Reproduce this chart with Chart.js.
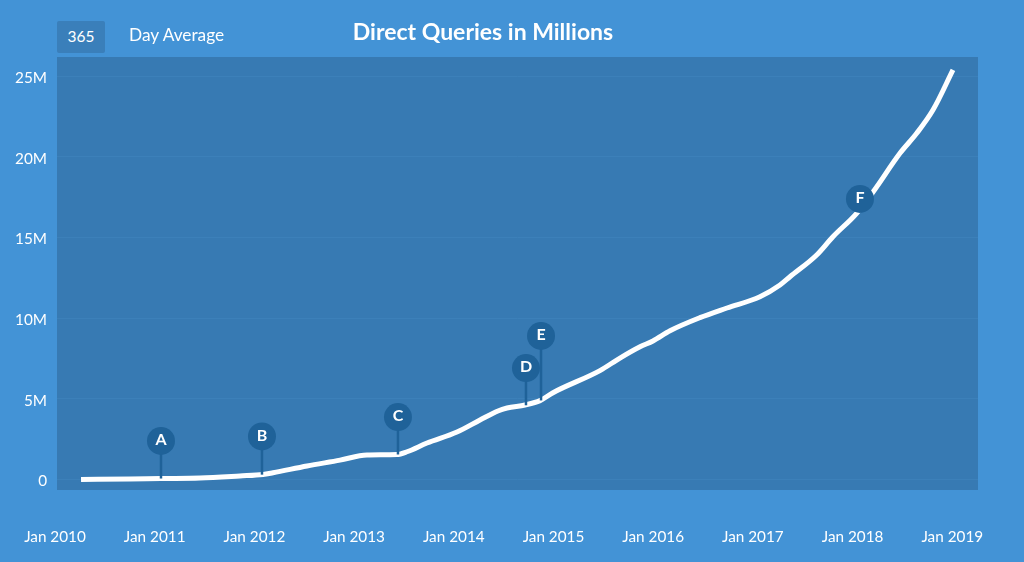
<!DOCTYPE html>
<html>
<head>
<meta charset="utf-8">
<title>Direct Queries in Millions</title>
<script src="https://cdn.jsdelivr.net/npm/chart.js@4"></script>
<style>
  body { margin: 0; width: 1024px; height: 562px; overflow: hidden; background: #4393d6; position: relative; font-family: Lato, sans-serif; color: #fff; }
  #chart { position: absolute; left: 0; top: 0; }
  .avg-box { position: absolute; left: 57px; top: 21px; width: 48px; height: 32px; line-height: 31px; text-align: center; background: #3a7fba; border-radius: 2px; font-size: 15.5px; }
  .avg-label { position: absolute; left: 129px; top: 25px; font-size: 17.3px; line-height: 20px; }
  .title { position: absolute; left: 283px; width: 400px; top: 18px; text-align: center; font-size: 23px; line-height: 26px; font-weight: 700; }
</style>
</head>
<body>
<canvas id="chart" width="1024" height="562"></canvas>
<div class="avg-box">365</div>
<div class="avg-label">Day Average</div>
<div class="title">Direct Queries in Millions</div>
<script>
// x values are in years from the "Jan 2010" label, y values in millions
const lineYears = [0.261, 0.752, 1.063, 1.454, 1.855, 2.086, 2.187, 2.528, 2.859, 3.129, 3.43, 3.531, 3.731, 4.032, 4.263, 4.443, 4.534, 4.714, 4.865, 4.995, 5.466, 5.667, 5.868, 5.998, 6.169, 6.469, 6.74, 7.071, 7.272, 7.372, 7.64, 7.803, 8.041, 8.207, 8.475, 8.643, 8.806, 9.007];
const lineValues = [0, 0.03, 0.06, 0.09, 0.22, 0.31, 0.42, 0.84, 1.2, 1.52, 1.55, 1.72, 2.26, 2.94, 3.69, 4.25, 4.43, 4.62, 4.89, 5.38, 6.75, 7.53, 8.23, 8.59, 9.22, 10.03, 10.63, 11.33, 12.06, 12.57, 13.92, 15.05, 16.5, 17.84, 20.22, 21.46, 22.9, 25.39];

const pinLetters = ['A', 'B', 'C', 'D', 'E', 'F'];
const pinYears = [1.063, 2.076, 3.44, 4.724, 4.875, 8.074];
const pinTops = [2.39, 2.67, 3.87, 6.91, 8.9, 17.39];
const pinBases = [0.06, 0.3, 1.55, 4.6, 4.9, 17.39];

const xTickYears = [0, 1, 2, 3, 4, 5, 6, 7, 8, 9];
const yTickValues = [0, 5, 10, 15, 20, 25];

const pinColor = '#1f6299';
const textFont = { family: 'Lato, sans-serif', size: 15.3 };

// panel behind the plot
const panelPlugin = {
  id: 'panel',
  beforeDraw(chart) {
    const a = chart.chartArea;
    chart.ctx.fillStyle = '#377ab3';
    chart.ctx.fillRect(a.left, a.top, a.width, a.height);
  }
};

// letters inside the pin circles
const pinLetterPlugin = {
  id: 'pinLetters',
  afterDatasetsDraw(chart) {
    const ctx = chart.ctx;
    ctx.save();
    ctx.fillStyle = '#fff';
    ctx.font = '700 16px Lato, sans-serif';
    ctx.textAlign = 'center';
    ctx.textBaseline = 'middle';
    pinLetters.forEach((letter, i) => {
      ctx.fillText(letter, chart.scales.x.getPixelForValue(pinYears[i]), chart.scales.y.getPixelForValue(pinTops[i]) - 1);
    });
    ctx.restore();
  }
};

const stems = pinLetters.map((letter, i) => ({
  data: [{ x: pinYears[i], y: pinBases[i] }, { x: pinYears[i], y: pinTops[i] }],
  borderColor: pinColor,
  borderWidth: 2.5,
  pointRadius: 0,
  order: 2
}));

new Chart(document.getElementById('chart'), {
  type: 'line',
  data: {
    datasets: [
      {
        data: lineYears.map((year, i) => ({ x: year, y: lineValues[i] })),
        borderColor: '#fff',
        borderWidth: 5,
        pointRadius: 0,
        cubicInterpolationMode: 'monotone',
        order: 3
      },
      ...stems,
      {
        data: pinYears.map((year, i) => ({ x: year, y: pinTops[i] })),
        showLine: false,
        pointRadius: 14,
        pointBackgroundColor: pinColor,
        pointBorderWidth: 0,
        order: 1
      }
    ]
  },
  options: {
    responsive: false,
    animation: false,
    layout: { autoPadding: false, padding: { top: 57, right: 46 } },
    plugins: { legend: { display: false }, tooltip: { enabled: false } },
    scales: {
      x: {
        type: 'linear',
        bounds: 'data',
        min: 0.02,
        max: 9.258,
        afterBuildTicks: axis => { axis.ticks = xTickYears.map(v => ({ value: v })); },
        afterFit: axis => {
          axis.height = 72;
          // edge labels must not push the plot area in
          axis.paddingLeft = 0;
          axis.paddingRight = 0;
        },
        grid: { display: false },
        border: { display: false },
        ticks: {
          autoSkip: false,
          maxRotation: 0,
          padding: 30,
          color: '#fff',
          font: textFont,
          callback: v => 'Jan ' + (2010 + v)
        }
      },
      y: {
        min: -0.651,
        max: 26.19,
        afterBuildTicks: axis => { axis.ticks = yTickValues.map(v => ({ value: v })); },
        afterFit: axis => { axis.width = 57; },
        grid: { color: '#3c80b9', lineWidth: 1, drawTicks: false },
        border: { display: false },
        ticks: {
          padding: 10,
          labelOffset: 2,
          color: '#fff',
          font: textFont,
          callback: v => (v === 0 ? '0' : v + 'M')
        }
      }
    }
  },
  plugins: [panelPlugin, pinLetterPlugin]
});
</script>
</body>
</html>
